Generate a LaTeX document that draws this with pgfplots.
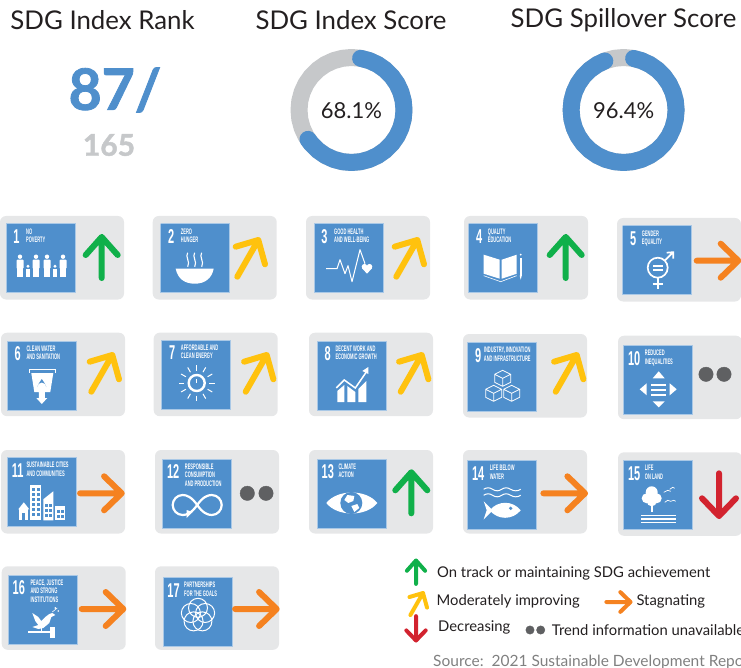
\documentclass[border=0pt]{standalone}
\usepackage{pgfplots}
\usepackage{pgfplotstable}
\usepackage{fontspec}
\pgfplotsset{compat=1.18}
\setmainfont{Lato}
\newfontfamily\condfont[FakeStretch=0.55]{Liberation Sans}
\newfontfamily\titlefont[FakeStretch=0.5]{Liberation Sans}

\definecolor{sdgblue}{HTML}{4F8FCC}
\definecolor{sdgedge}{HTML}{A9C8E6}
\definecolor{cardgray}{HTML}{E6E7E8}
\definecolor{ringgray}{HTML}{C6C8CA}
\definecolor{upgreen}{HTML}{10B04A}
\definecolor{midyellow}{HTML}{FFC20E}
\definecolor{stagorange}{HTML}{F58220}
\definecolor{downred}{HTML}{D2232F}
\definecolor{dotgray}{HTML}{5F6062}
\definecolor{inktext}{HTML}{231F20}

% shapes, all in pixels relative to their corner or arrow tip
\pgfplotstableread[row sep=\\]{x y\\ 62 0\\ 124 0\\ 124 83.5\\ 0 83.5\\ 0 0\\ 62 0\\}\cardshape
\pgfplotstableread[row sep=\\]{x y\\ 0 0\\ 69 0\\ 69 69\\ 0 69\\ 0 0\\}\tileshape
\pgfplotstableread[row sep=\\]{x y\\ 0 41\\ 0 0\\ -16 18\\ 0 0\\ 16 18\\}\arrowup
\pgfplotstableread[row sep=\\]{x y\\ -21 36.7\\ 0 0\\ -22.6 6.7\\ 0 0\\ 6.7 24.3\\}\arrowdiag
\pgfplotstableread[row sep=\\]{x y\\ -41.6 0\\ 0 0\\ -17.6 -17\\ 0 0\\ -17.6 17\\}\arrowright
\pgfplotstableread[row sep=\\]{x y\\ 0 -42.7\\ 0 0\\ -17 -17.7\\ 0 0\\ 17 -17.7\\}\arrowdown

% ring angles, degrees
\pgfplotstableread[row sep=\\]{a\\ 0\\ 10\\ 20\\ 30\\ 40\\ 50\\ 60\\ 70\\ 80\\ 90\\ 100\\ 110\\ 120\\ 130\\ 140\\ 150\\ 160\\ 170\\ 180\\ 190\\ 200\\ 210\\ 220\\ 230\\ 240\\ 250\\ 260\\ 270\\ 280\\ 290\\ 300\\ 310\\ 320\\ 330\\ 340\\ 350\\ 360\\}\ringfull
\pgfplotstableread[row sep=\\]{a\\ 80\\ 70\\ 60\\ 50\\ 40\\ 30\\ 20\\ 10\\ 0\\ -10\\ -20\\ -30\\ -40\\ -50\\ -60\\ -70\\ -80\\ -90\\ -100\\ -110\\ -120\\ -130\\ -140\\ -146\\}\ringindex
\pgfplotstableread[row sep=\\]{a\\ 79\\ 70\\ 60\\ 50\\ 40\\ 30\\ 20\\ 10\\ 0\\ -10\\ -20\\ -30\\ -40\\ -50\\ -60\\ -70\\ -80\\ -90\\ -100\\ -110\\ -120\\ -130\\ -140\\ -150\\ -160\\ -170\\ -180\\ -190\\ -200\\ -210\\ -220\\ -230\\ -240\\ -249\\}\ringspill

\newcommand{\ring}[3]{%
  \addplot[draw=#3,line width=17pt,line cap=round,line join=round]
    table[x index=0,y index=0,x expr={#1+52.5*cos(\thisrow{a})},y expr={110-52.5*sin(\thisrow{a})}]{#2};}

\newcommand{\tile}[8]{% card x,y; tile x,y; number; title; title x; icon
  \addplot[fill=cardgray,draw=none,rounded corners=6pt]
    table[x expr=\thisrow{x}+#1,y expr=\thisrow{y}+#2]{\cardshape};
  \addplot[fill=sdgblue,draw=sdgedge,line width=0.5pt]
    table[x expr=\thisrow{x}+#3,y expr=\thisrow{y}+#4]{\tileshape};
  \pgfplotsextra{\begin{scope}[shift={(axis cs:#3,#4)},x=1pt,y=-1pt,white,fill=white,draw=white]
    \node[anchor=center,inner sep=0pt,text=white,font=\condfont\bfseries\fontsize{20}{20}\selectfont] at (10.5,13) {#5};
    \node[anchor=north west,inner sep=0pt,align=left,text=white,font=\titlefont\bfseries\fontsize{8}{8.4}\selectfont] at (#7,4.8) {#6};
    #8
  \end{scope}}}

\newcommand{\trend}[6]{% shape, colour, tip x,y, scale, line width
  \addplot[draw=#2,line width=#6pt,line cap=round,line join=round]
    table[x expr=\thisrow{x}*#5+#3,y expr=\thisrow{y}*#5+#4]{#1};}

\newcommand{\adult}[1]{\fill (#1,33) circle[radius=2.2];
  \fill[rounded corners=.8pt] (#1-3.5,36) rectangle (#1+3.5,45);
  \fill (#1-2.6,44) rectangle (#1-.4,53); \fill (#1+.4,44) rectangle (#1+2.6,53);}
\newcommand{\kid}[1]{\fill (#1,42.5) circle[radius=1.6];
  \fill (#1-2,45) rectangle (#1+2,49.5);
  \fill (#1-1.7,49) rectangle (#1-.3,53); \fill (#1+.3,49) rectangle (#1+1.7,53);}

\newcommand{\iconpoverty}{\adult{14}\kid{22}\adult{30}\adult{41}\kid{49}\adult{57}}
\newcommand{\iconhunger}{\fill (15,45) .. controls (17,55) and (24,60) .. (34,60) .. controls (44,60) and (51,55) .. (53,45) -- cycle;
  \foreach \s in {27,34,41}{\draw[line width=1.1pt] (\s,29) .. controls (\s-3,33) and (\s+3,38) .. (\s,43);}}
\newcommand{\iconhealth}{\draw[line width=1pt,line join=round] (12,45) -- (23,45) -- (26,36) -- (31,50) -- (34,42) -- (38,58) -- (46,26) -- (51,40);
  \fill (50.5,43) circle[radius=2.8]; \fill (55.5,43) circle[radius=2.8]; \fill (48,44.5) -- (58,44.5) -- (53,50) -- cycle;}
\newcommand{\iconeducation}{\fill (15,31) -- (31,36) -- (31,55) -- (15,50) -- cycle;
  \fill (33,36) -- (48,31) -- (48,50) -- (33,55) -- cycle;
  \draw[line width=.6pt] (15,52) -- (32,58) -- (48,52);
  \fill (51,34) rectangle (53,52); \fill (51,52) -- (53,52) -- (52,56) -- cycle; \fill (52,31) circle[radius=1];}
\newcommand{\icongender}{\draw[line width=1.7pt] (35,42) circle[radius=10];
  \fill (30,39) rectangle (40,40.8); \fill (30,43.5) rectangle (40,45.3);
  \draw[line width=1.7pt] (35,52) -- (35,63) (30,58) -- (40,58);
  \draw[line width=1.7pt] (42,35) -- (50,27) (44,27) -- (50.5,26.5) -- (50.5,33);}
\newcommand{\iconwater}{\draw[line width=.7pt] (22,32) -- (22,28) -- (48,28) -- (48,32);
  \fill (24,32) -- (46,32) -- (43,51) -- (37.5,51) -- (37.5,57) -- (40,57) -- (34.5,63) -- (29,57) -- (31.5,57) -- (31.5,51) -- (27,51) -- cycle;
  \fill[sdgblue] (34.5,38) .. controls (32,42) and (30,44) .. (30,46) arc[start angle=180,end angle=360,radius=4.5] .. controls (39,44) and (37,42) .. (34.5,38);}
\newcommand{\iconenergy}{\draw[line width=2.4pt] (35,43) circle[radius=8];
  \draw[line width=1.3pt] (35,39) -- (35,43);
  \foreach \a in {0,30,...,330}{\draw[line width=1pt] ({35+12.5*cos(\a)},{43+12.5*sin(\a)}) -- ({35+18*cos(\a)},{43+18*sin(\a)});}}
\newcommand{\icongrowth}{\fill (20,50) -- (27,44) -- (27,61) -- (20,61) -- cycle;
  \fill (30,45) -- (38,51) -- (38,61) -- (30,61) -- cycle;
  \fill (41,48) -- (49,40) -- (49,61) -- (41,61) -- cycle;
  \draw[line width=1.5pt] (19,47) -- (27,39) -- (38,47) -- (49,31);
  \fill (45,30) -- (51,26) -- (51,33) -- cycle;}
\newcommand{\cube}[2]{\begin{scope}[shift={(#1,#2)}]\draw[line width=.8pt,line join=round] (0,-8) -- (8,-4) -- (8,4) -- (0,8) -- (-8,4) -- (-8,-4) -- cycle (-8,-4) -- (0,0) -- (8,-4) (0,0) -- (0,8);\end{scope}}
\newcommand{\iconindustry}{\cube{35}{36}\cube{26}{51}\cube{44}{51}}
\newcommand{\iconinequal}{\fill (35,26) -- (41,33) -- (29,33) -- cycle; \fill (35,62) -- (41,56) -- (29,56) -- cycle;
  \fill (16,44) -- (23,38) -- (23,50) -- cycle; \fill (53,44) -- (46,38) -- (46,50) -- cycle;
  \fill (27,38.5) rectangle (42,41); \fill (27,43.5) rectangle (42,46); \fill (27,48.5) rectangle (42,51);}
\newcommand{\iconcities}{\fill (11,52) -- (16.5,45) -- (22,52) -- cycle; \fill (12,52) rectangle (21,63);
  \fill (23,28) rectangle (34,63); \fill (36,42) -- (46,34) -- (46,63) -- (36,63) -- cycle; \fill (48,49) rectangle (58,63);
  \foreach \u in {25,30}{\foreach \v in {31,36,...,56}{\fill[sdgblue] (\u,\v) rectangle (\u+2.5,\v+2.5);}}
  \foreach \v in {53,58}{\fill[sdgblue] (50,\v) rectangle (52.5,\v+2.5); \fill[sdgblue] (54,\v) rectangle (56.5,\v+2.5);}
  \foreach \v in {47,52,57}{\fill[sdgblue] (38,\v) rectangle (40.5,\v+2.5); \fill[sdgblue] (42,\v) rectangle (44.5,\v+2.5);}
  \fill[sdgblue] (15,56) rectangle (18,63);}
\newcommand{\iconconsumption}{\draw[line width=2.2pt] (34.5,46) .. controls (29,38) and (24,36) .. (20,36) .. controls (14,36) and (10,41) .. (10,46) .. controls (10,51) and (14,56) .. (20,56) .. controls (24,56) and (29,54) .. (34.5,46) .. controls (40,38) and (45,36) .. (49,36) .. controls (55,36) and (59,41) .. (59,46) .. controls (59,51) and (55,56) .. (49,56) .. controls (45,56) and (40,54) .. (34.5,46);
  \fill (24,51) -- (30,53) -- (24,59) -- cycle;}
\newcommand{\iconclimate}{\fill (9,44) .. controls (20,30) and (49,30) .. (60,44) .. controls (49,58) and (20,58) .. (9,44) -- cycle;
  \fill[sdgblue] (34,44) circle[radius=11];
  \fill (30,36) -- (37,37) -- (36,42) -- (31,44) -- (27,41) -- cycle; \fill (34,47) -- (40,45) -- (42,49) -- (37,53) -- cycle;}
\newcommand{\iconwaterlife}{\foreach \v in {29,35}{\draw[line width=1pt] (16,\v) .. controls (19,\v-2) and (22,\v-2) .. (25,\v) .. controls (28,\v+2) and (31,\v+2) .. (34,\v) .. controls (37,\v-2) and (40,\v-2) .. (43,\v) .. controls (46,\v+2) and (50,\v+2) .. (53,\v);}
  \fill (22,50) .. controls (30,40) and (45,40) .. (53,50) .. controls (45,60) and (30,60) .. (22,50) -- cycle;
  \fill (16,41) -- (25,50) -- (16,59) -- (19,50) -- cycle; \fill[sdgblue] (43,48) circle[radius=1.8];}
\newcommand{\iconland}{\fill (28,32) circle[radius=6]; \fill (23,38) circle[radius=5]; \fill (33,38) circle[radius=5]; \fill (28,41) circle[radius=5];
  \fill (27.2,42) rectangle (28.8,52); \fill (17,54.5) rectangle (52,56); \fill (17,58) rectangle (52,59.5); \fill (17,61.5) rectangle (52,62.5);
  \draw[line width=.7pt] (40,32) -- (44,30) -- (47,31) (46,29) -- (49,27) -- (51,28) (41,42) -- (44,40) -- (47,41) (47,41) -- (50,40) -- (52,41);}
\newcommand{\iconpeace}{\fill (24,38) -- (30,42) -- (33,46) -- (37,42) -- (41,39) -- (44,38) -- (47,40) -- (43,42) -- (41,48) -- (35,53) -- (30,54) -- (24,52) -- (30,50) -- (27,46) -- cycle;
  \draw[line width=.6pt] (44,37) -- (49,33); \fill (47,33) circle[radius=1]; \fill (50,36) circle[radius=.9];
  \fill (20,56) rectangle (43,58); \fill (42,52) rectangle (47,62.5); \draw[line width=.8pt] (33,53) -- (33,57);}
\newcommand{\iconpartner}{\foreach \a in {90,162,234,306,18}{\draw[line width=1pt] ({35+7.5*cos(\a)},{38-7.5*sin(\a)}) circle[radius=9.5];}}

\begin{document}
\begin{tikzpicture}
\begin{axis}[
    scale only axis,
    width=741pt,
    height=668pt,
    xmin=0,xmax=741,
    ymin=0,ymax=668,
    y dir=reverse,
    hide axis,
    clip=true,
    clip mode=global,
]
% score rings
\ring{351.5}{\ringfull}{ringgray}
\ring{351.5}{\ringindex}{sdgblue}
\ring{623.6}{\ringfull}{ringgray}
\ring{623.6}{\ringspill}{sdgblue}

\node[text=inktext,font=\fontsize{25.8}{30}\selectfont] at (axis cs:102.5,20) {SDG Index Rank};
\node[text=inktext,font=\fontsize{25.8}{30}\selectfont] at (axis cs:351,20) {SDG Index Score};
\node[text=inktext,font=\fontsize{25.8}{30}\selectfont] at (axis cs:623.5,20) {SDG Spillover Score};
\node[text=sdgblue,font=\bfseries\fontsize{57}{60}\selectfont\addfontfeatures{FakeBold=1.5}] at (axis cs:115,90) {87/};
\node[text=ringgray,font=\bfseries\fontsize{30}{32}\selectfont\addfontfeatures{FakeBold=1.5}] at (axis cs:109,145) {165};
\node[text=inktext,font=\fontsize{22}{26}\selectfont] at (axis cs:351.5,111) {68.1\%};
\node[text=inktext,font=\fontsize{22}{26}\selectfont] at (axis cs:623.6,111) {96.4\%};

% goal tiles
\tile{0}{216}{6}{223.7}{1}{NO\\POVERTY}{20}{\iconpoverty}
\tile{152.7}{216}{160.7}{223.7}{2}{ZERO\\HUNGER}{20}{\iconhunger}
\tile{306}{216}{314}{223.7}{3}{GOOD HEALTH\\AND WELL-BEING}{20}{\iconhealth}
\tile{464}{216}{468.7}{223.7}{4}{QUALITY\\EDUCATION}{19}{\iconeducation}
\tile{617}{218}{622.7}{225.7}{5}{GENDER\\EQUALITY}{19}{\icongender}
\tile{1}{332.7}{7.3}{341}{6}{CLEAN WATER\\AND SANITATION}{19}{\iconwater}
\tile{153.7}{332.7}{161.7}{340}{7}{AFFORDABLE AND\\CLEAN ENERGY}{19}{\iconenergy}
\tile{309}{332.7}{317.3}{341}{8}{DECENT WORK AND\\ECONOMIC GROWTH}{18}{\icongrowth}
\tile{463}{334}{467.7}{342.3}{9}{INDUSTRY, INNOVATION\\AND INFRASTRUCTURE}{16}{\iconindustry}
\tile{618}{335.7}{623.7}{345.3}{10}{REDUCED\\INEQUALITIES}{21}{\iconinequal}
\tile{1}{450}{7.3}{457.3}{11}{SUSTAINABLE CITIES\\AND COMMUNITIES}{19}{\iconcities}
\tile{155}{450}{162.7}{459}{12}{RESPONSIBLE\\CONSUMPTION\\AND PRODUCTION}{22}{\iconconsumption}
\tile{309}{450}{317.3}{459}{13}{CLIMATE\\ACTION}{21}{\iconclimate}
\tile{463}{450}{467.7}{460.3}{14}{LIFE BELOW\\WATER}{22}{\iconwaterlife}
\tile{618}{452.3}{623.7}{460.3}{15}{LIFE\\ON LAND}{21}{\iconland}
\tile{1.7}{566.3}{8.3}{575}{16}{PEACE, JUSTICE\\AND STRONG\\INSTITUTIONS}{22}{\iconpeace}
\tile{155}{566.3}{163}{577.3}{17}{PARTNERSHIPS\\FOR THE GOALS}{21}{\iconpartner}

% trend of each goal
\trend{\arrowup}{upgreen}{101.7}{237}{1}{6}
\trend{\arrowdiag}{midyellow}{258.3}{240}{1}{6}
\trend{\arrowdiag}{midyellow}{417.3}{240}{1}{6}
\trend{\arrowup}{upgreen}{565.7}{237}{1}{6}
\trend{\arrowright}{stagorange}{738.3}{260.7}{1}{6}
\trend{\arrowdiag}{midyellow}{112.3}{355}{1}{6}
\trend{\arrowdiag}{midyellow}{266.7}{355}{1}{6}
\trend{\arrowdiag}{midyellow}{421.7}{355}{1}{6}
\trend{\arrowdiag}{midyellow}{576.7}{355}{1}{6}
\addplot[only marks,mark=*,mark size=7.2,draw=dotgray,fill=dotgray] coordinates {(706,374.3) (724,374.3)};
\trend{\arrowright}{stagorange}{121.7}{493.3}{1}{6}
\addplot[only marks,mark=*,mark size=7.2,draw=dotgray,fill=dotgray] coordinates {(247.3,493.3) (266,493.3)};
\trend{\arrowup}{upgreen}{411.3}{472.3}{1}{6}
\trend{\arrowright}{stagorange}{585}{493.3}{1}{6}
\trend{\arrowdown}{downred}{719}{516}{1}{6}
\trend{\arrowright}{stagorange}{123.3}{609}{1}{6}
\trend{\arrowright}{stagorange}{276.7}{609}{1}{6}

% legend
\trend{\arrowup}{upgreen}{416}{560.5}{0.57}{4}
\trend{\arrowdiag}{midyellow}{423}{593}{0.6}{4}
\trend{\arrowright}{stagorange}{630.5}{602}{0.58}{4}
\trend{\arrowdown}{downred}{416}{640.5}{0.57}{4}
\addplot[only marks,mark=*,mark size=4.2,draw=dotgray,fill=dotgray] coordinates {(530,630) (540.7,630)};
\node[anchor=west,inner sep=0pt,text=inktext,font=\fontsize{14.8}{18}\selectfont] at (axis cs:437,573) {On track or maintaining SDG achievement};
\node[anchor=west,inner sep=0pt,text=inktext,font=\fontsize{14.8}{18}\selectfont] at (axis cs:436.5,601) {Moderately improving};
\node[anchor=west,inner sep=0pt,text=inktext,font=\fontsize{14.8}{18}\selectfont] at (axis cs:636.3,601) {Stagnating};
\node[anchor=west,inner sep=0pt,text=inktext,font=\fontsize{14.8}{18}\selectfont] at (axis cs:438,627) {Decreasing};
\node[anchor=west,inner sep=0pt,text=inktext,font=\fontsize{14.8}{18}\selectfont] at (axis cs:551.7,630) {Trend information unavailable};
\node[anchor=west,inner sep=0pt,text=black!50,font=\fontsize{15.5}{18}\selectfont] at (axis cs:433,662) {Source:\ \ 2021 Sustainable Development Report};
\end{axis}
\pgfresetboundingbox
\useasboundingbox (0,0) rectangle (741pt,668pt);
\end{tikzpicture}
\end{document}
